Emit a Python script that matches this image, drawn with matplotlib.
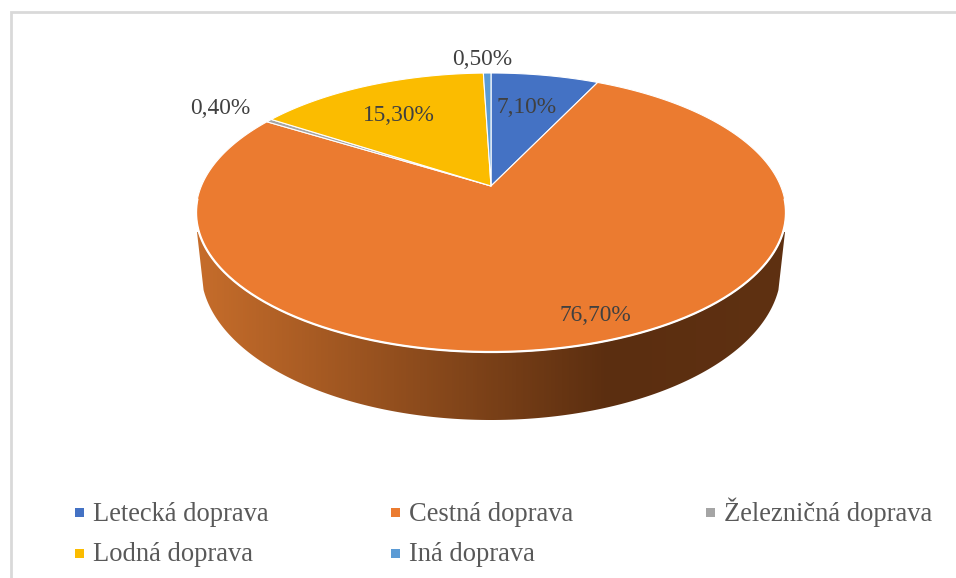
"""
Podiel druhov dopravy - 3D pie chart redrawn with a perspective top face.
"""

import numpy as np
import matplotlib.pyplot as plt
from matplotlib.colors import LinearSegmentedColormap
from matplotlib.patches import Polygon, Rectangle

categories = ['Letecká doprava', 'Cestná doprava', 'Železničná doprava',
              'Lodná doprava', 'Iná doprava']
values = [7.1, 76.7, 0.4, 15.3, 0.5]
value_labels = ['7,10%', '76,70%', '0,40%', '15,30%', '0,50%']
colors = ['#4472C4', '#EB7B30', '#A5A5A5', '#FBBC00', '#5B9BD5']

label_xy = [(527, 105), (595, 313), (220, 106), (399, 113), (482, 57)]
legend_xy = [(80, 512), (396, 512), (711, 512), (80, 553), (396, 553)]
legend_base = [521, 521, 521, 561, 561]

# perspective map of the unit disc onto the top face (pixel coordinates)
cx, apex_y = 491, 186
k = 0.19
a = -99.13
b = 289.6


def project(theta):
    u, v = np.sin(theta), np.cos(theta)
    d = 1 + k * v
    return cx + b * u / d, (a * v + apex_y) / d


plt.rcParams['font.family'] = ['Liberation Serif', 'DejaVu Serif']

fig = plt.figure(figsize=(9.56, 5.78), dpi=100)
ax = fig.add_axes([0, 0, 1, 1])
ax.axis('off')

# chart frame
ax.plot([11, 11, 956], [578, 12, 12], color='#d9d9d9', lw=2, solid_joinstyle='miter')

# side wall: lower rim ellipse, cut off where the straight sides meet it
phi = np.linspace(np.arcsin(20 / 150), np.pi - np.arcsin(20 / 150), 361)
wall_x = cx + 290 * np.cos(phi)
wall_y = 270 + 150 * np.sin(phi)
wall_pts = np.vstack([[785, 232], np.column_stack([wall_x, wall_y]), [197, 232]])
wall = Polygon(wall_pts, closed=True, fc='none', ec='none')
ax.add_patch(wall)
wall_cmap = LinearSegmentedColormap.from_list(
    'wall', [(0, '#C66D2B'), (0.7, '#5B2E10'), (1, '#5F3112')])
img = ax.imshow(np.linspace(0, 1, 590)[None, :], cmap=wall_cmap, aspect='auto',
                extent=(196, 786, 425, 220), zorder=2)
img.set_clip_path(wall)
ax.set_xlim(0, 956)
ax.set_ylim(578, 0)

# top face slices
edges = 2 * np.pi * np.cumsum([0] + values) / sum(values)
for start, end, c in zip(edges[:-1], edges[1:], colors):
    th = np.linspace(start, end, max(int((end - start) * 120), 3))
    x, y = project(th)
    pts = np.column_stack([np.r_[cx, x], np.r_[apex_y, y]])
    ax.add_patch(Polygon(pts, closed=True, fc=c, ec='white', lw=0.8, zorder=3,
                         joinstyle='round'))

# white highlight where the top face meets the wall
t = np.linspace(np.pi / 2 + 0.1, 3 * np.pi / 2 - 0.1, 361)
ax.plot(*project(t), color='white', lw=1.6, zorder=3)

for (x, y), txt in zip(label_xy, value_labels):
    ax.text(x, y + 2.5, txt, ha='center', va='center', fontsize=16.8, color='#404040', zorder=4)

for (x, y), base, name, c in zip(legend_xy, legend_base, categories, colors):
    ax.add_patch(Rectangle((x - 4.5, y - 4.5), 9, 9, fc=c, ec='none', zorder=4))
    ax.text(x + 13, base, name, ha='left', va='baseline', fontsize=19.1, color='#595959', zorder=4)

plt.savefig('out.png', dpi=100)
